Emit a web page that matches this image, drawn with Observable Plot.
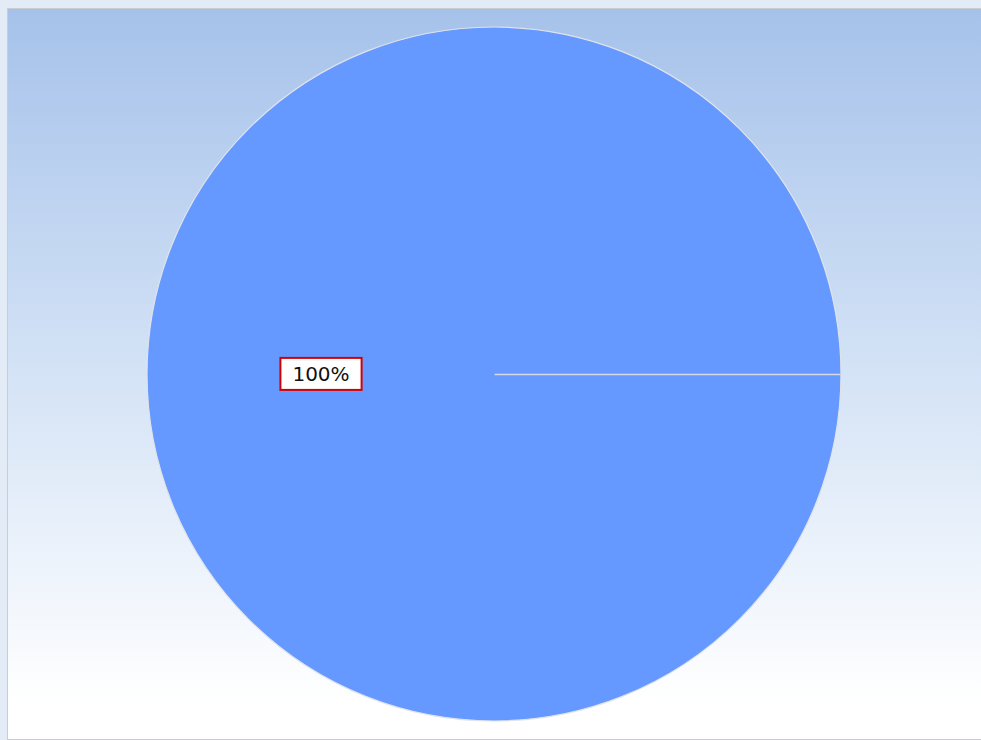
<!DOCTYPE html>
<html>
<head>
<meta charset="utf-8">
<script src="https://cdn.jsdelivr.net/npm/d3@7"></script>
<script src="https://cdn.jsdelivr.net/npm/@observablehq/plot@0.6"></script>
<style>
  html, body { margin: 0; padding: 0; }
  body { width: 981px; height: 740px; overflow: hidden; background: #e3ebf6; }
  #wrap { position: relative; width: 981px; height: 740px; }
  #frame {
    position: absolute; left: 7px; top: 8px; right: -2px; bottom: 0px;
    border: 1px solid #c9ccd2; border-right: none;
    background: linear-gradient(to bottom, #a6c2ea 0%, #d4e3f6 50%, #ffffff 95%);
  }
  #chart { position: absolute; left: 0; top: 0; }
</style>
</head>
<body>
<div id="wrap"><div id="frame"></div><div id="chart"></div></div>
<script>
// Data
const categories = ["Series 1"];
const values = [100];
const labels = ["100%"];

const arcs = d3.pie().sort(null).startAngle(Math.PI / 2).endAngle(Math.PI / 2 + 2 * Math.PI)(values);
const slices = arcs.map((a, i) => ({
  category: categories[i],
  label: labels[i],
  startAngle: a.startAngle,
  endAngle: a.endAngle,
  mid: (a.startAngle + a.endAngle) / 2
}));

// pie mark drawn through Plot scales
function pieMark(index, scales) {
  const cx = scales.x(0), cy = scales.y(0);
  const r = scales.x(1) - scales.x(0);
  const arc = d3.arc().innerRadius(0).outerRadius(r);
  const g = d3.create("svg:g").attr("transform", `translate(${cx},${cy})`);
  g.selectAll("path").data(slices).join("path")
    .attr("d", d => arc(d))
    .attr("fill", "#6699ff")
    .attr("stroke", "#dfe3ea")
    .attr("stroke-width", 1.2);
  return g.node();
}

const plot = Plot.plot({
  width: 981,
  height: 740,
  margin: 0,
  x: { domain: [-1, 1], range: [147, 841], axis: null },
  y: { domain: [-1, 1], range: [721, 27], axis: null },
  style: { background: "transparent", overflow: "visible" },
  marks: [
    pieMark,
    Plot.link(slices, {
      x1: 0, y1: 0,
      x2: d => Math.sin(d.startAngle),
      y2: d => Math.cos(d.startAngle),
      stroke: "#d5d9e0",
      strokeWidth: 1.5
    }),
    Plot.text(slices, {
      x: d => 0.5 * Math.sin(d.mid),
      y: d => 0.5 * Math.cos(d.mid),
      text: "label",
      fontSize: 20,
      fill: "#111",
      fontFamily: "DejaVu Sans"
    })
  ]
});
document.getElementById("chart").appendChild(plot);

// add white box with red outline behind each label
const svg = d3.select(plot);
svg.selectAll("g[aria-label='text'] text").each(function () {
  const bb = this.getBBox();
  const padX = 12, padY = 5;
  const r = d3.select(this.parentNode).insert("rect", () => this)
    .attr("x", bb.x - padX)
    .attr("y", bb.y - padY + 1)
    .attr("width", bb.width + 2 * padX)
    .attr("height", bb.height + 2 * padY - 2)
    .attr("fill", "#ffffff")
    .attr("stroke", "#d40000")
    .attr("stroke-width", 2);
  const t = this.getAttribute("transform");
  if (t) r.attr("transform", t);
});
</script>
</body>
</html>
